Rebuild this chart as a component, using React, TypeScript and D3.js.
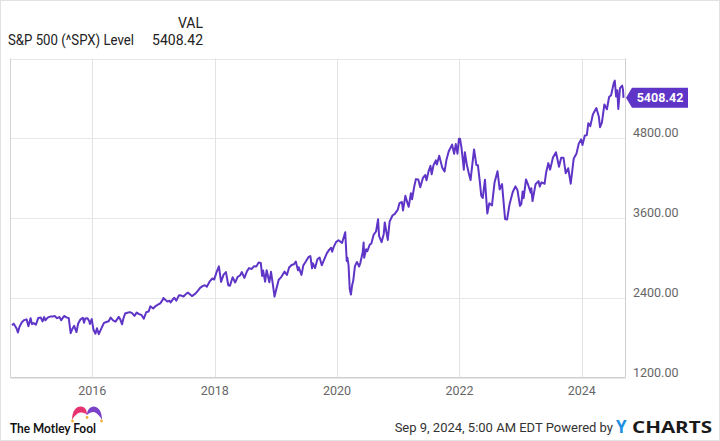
import React from "react";
import * as d3 from "d3";

const dates: string[] = [
"2014-09-09","2014-09-19","2014-09-26","2014-10-07","2014-10-14","2014-10-24","2014-11-07","2014-11-21","2014-12-05","2014-12-16","2014-12-29",
"2015-01-06","2015-01-16","2015-01-30","2015-02-13","2015-02-27","2015-03-10","2015-03-20","2015-03-27","2015-04-10","2015-04-24","2015-05-08","2015-05-22","2015-06-05","2015-06-19","2015-06-30","2015-07-17","2015-07-31","2015-08-14","2015-08-25","2015-09-01","2015-09-15","2015-09-29","2015-10-09","2015-10-23","2015-11-06","2015-11-13","2015-11-20","2015-12-04","2015-12-15","2015-12-18","2015-12-29",
"2016-01-08","2016-01-20","2016-01-29","2016-02-09","2016-02-26","2016-03-11","2016-03-25","2016-04-08","2016-04-20","2016-05-06","2016-05-19","2016-06-07","2016-06-17","2016-06-27","2016-07-05","2016-07-15","2016-07-29","2016-08-12","2016-08-26","2016-09-09","2016-09-22","2016-10-07","2016-10-21","2016-11-04","2016-11-18","2016-12-02","2016-12-13","2016-12-30",
"2017-01-13","2017-01-27","2017-02-10","2017-02-24","2017-03-01","2017-03-10","2017-03-24","2017-04-07","2017-04-13","2017-04-28","2017-05-05","2017-05-17","2017-06-02","2017-06-16","2017-06-29","2017-07-14","2017-07-26","2017-08-11","2017-08-18","2017-09-08","2017-09-22","2017-10-06","2017-10-20","2017-11-03","2017-11-15","2017-12-01","2017-12-18","2017-12-29",
"2018-01-12","2018-01-26","2018-02-08","2018-02-23","2018-03-09","2018-03-23","2018-04-02","2018-04-18","2018-05-03","2018-05-18","2018-06-01","2018-06-12","2018-06-27","2018-07-13","2018-07-25","2018-08-10","2018-08-24","2018-09-07","2018-09-20","2018-10-03","2018-10-11","2018-10-17","2018-10-29","2018-11-07","2018-11-23","2018-12-03","2018-12-14","2018-12-24",
"2019-01-04","2019-01-18","2019-02-01","2019-02-22","2019-03-08","2019-03-21","2019-04-05","2019-04-19","2019-04-30","2019-05-13","2019-05-17","2019-06-03","2019-06-14","2019-06-28","2019-07-15","2019-07-26","2019-08-05","2019-08-09","2019-08-23","2019-09-06","2019-09-19","2019-10-02","2019-10-18","2019-11-01","2019-11-15","2019-11-27","2019-12-03","2019-12-13","2019-12-27",
"2020-01-10","2020-01-31","2020-02-19","2020-02-28","2020-03-03","2020-03-10","2020-03-17","2020-03-24","2020-03-31","2020-04-07","2020-04-17","2020-04-29","2020-05-12","2020-05-19","2020-06-02","2020-06-08","2020-06-11","2020-06-23","2020-06-30","2020-07-14","2020-07-24","2020-08-07","2020-08-21","2020-09-02","2020-09-08","2020-09-23","2020-10-06","2020-10-12","2020-10-30","2020-11-10","2020-11-27","2020-12-11","2020-12-29",
"2021-01-08","2021-01-22","2021-01-29","2021-02-12","2021-02-26","2021-03-04","2021-03-17","2021-03-24","2021-04-06","2021-04-16","2021-04-30","2021-05-12","2021-05-28","2021-06-11","2021-06-18","2021-06-30","2021-07-12","2021-07-19","2021-07-30","2021-08-13","2021-08-19","2021-09-02","2021-09-20","2021-10-04","2021-10-15","2021-10-29","2021-11-18","2021-11-30","2021-12-10","2021-12-20","2021-12-29",
"2022-01-04","2022-01-13","2022-01-27","2022-02-02","2022-02-14","2022-02-24","2022-03-08","2022-03-29","2022-04-12","2022-04-21","2022-05-02","2022-05-11","2022-05-20","2022-06-02","2022-06-16","2022-06-28","2022-07-14","2022-07-29","2022-08-16","2022-08-29","2022-09-12","2022-09-30","2022-10-12","2022-10-27","2022-11-15","2022-12-01","2022-12-13","2022-12-28",
"2023-01-05","2023-01-13","2023-01-19","2023-02-02","2023-02-16","2023-03-02","2023-03-06","2023-03-13","2023-03-31","2023-04-18","2023-04-25","2023-05-05","2023-05-24","2023-06-02","2023-06-15","2023-06-26","2023-07-13","2023-07-31","2023-08-18","2023-08-31","2023-09-14","2023-09-27","2023-10-12","2023-10-27","2023-11-14","2023-11-30","2023-12-14","2023-12-28",
"2024-01-05","2024-01-19","2024-01-31","2024-02-09","2024-02-21","2024-03-07","2024-03-28","2024-04-12","2024-04-19","2024-04-30","2024-05-15","2024-05-30","2024-06-12","2024-06-24","2024-07-10","2024-07-16","2024-07-24","2024-07-31","2024-08-06","2024-08-16","2024-08-29","2024-09-03","2024-09-06"
];

const values: number[] = [
1988,2010,1982,1935,1877,1964,2032,2064,2075,1973,2091,
2003,2019,1995,2097,2104,2044,2108,2061,2102,2117,2116,2126,2092,2110,2063,2126,2104,2091,1867,1914,1978,1884,2014,2075,2099,2023,2089,2091,2043,2005,2078,
1922,1859,1940,1852,1948,2022,2035,2047,2102,2057,2040,2112,2071,2000,2088,2162,2174,2184,2169,2128,2177,2153,2141,2085,2182,2192,2271,2239,
2275,2295,2316,2367,2396,2373,2344,2355,2329,2384,2399,2357,2439,2433,2419,2459,2477,2441,2425,2461,2502,2549,2575,2588,2565,2642,2690,2674,
2786,2873,2640,2747,2786,2588,2582,2708,2630,2713,2735,2786,2699,2801,2846,2833,2875,2872,2931,2925,2728,2809,2641,2814,2633,2790,2600,2417,
2532,2671,2707,2793,2743,2855,2893,2905,2946,2812,2860,2744,2887,2942,3014,3026,2844,2919,2847,2979,3006,2888,2986,3067,3120,3153,3093,3169,3240,
3265,3225,3386,2954,3003,2882,2529,2447,2585,2659,2875,2939,2870,2922,3080,3232,3002,3131,3100,3197,3216,3351,3397,3580,3332,3237,3361,3534,3270,3546,3638,3663,3727,
3825,3841,3714,3934,3811,3768,3974,3881,4074,4185,4181,4063,4204,4247,4166,4298,4385,4258,4395,4468,4406,4537,4358,4300,4471,4605,4704,4567,4712,4568,4793,
4793,4659,4326,4589,4401,4288,4170,4632,4397,4393,4155,3935,3901,4177,3667,3821,3790,4130,4305,4030,4110,3586,3577,3808,3992,4076,4019,3783,
3808,3999,3899,4180,4090,3981,4048,3855,4109,4155,4072,4136,4115,4282,4426,4328,4510,4589,4370,4508,4505,4274,4349,4117,4496,4568,4719,4783,
4697,4840,4846,5027,4982,5157,5254,5123,4967,5036,5308,5236,5421,5448,5633,5667,5427,5522,5240,5554,5592,5529,5408.42
];

const yTicks: number[] = [1200, 2400, 3600, 4800];
const xTickYears: number[] = [2016, 2018, 2020, 2022, 2024];
const seriesName = "S&P 500 (^SPX) Level";
const lastLabel = "5408.42";
const footerDate = "Sep 9, 2024, 5:00 AM EDT Powered by";

const W = 720, H = 441;
const left = 10.5, right = 625.5, top = 58.5, bottom = 377.5;
const LINE = "#5f35c7";

export default function App() {
  const parse = d3.timeParse("%Y-%m-%d");
  const data = dates.map((d, i) => ({ date: parse(d) as Date, value: values[i] }));
  const x = d3.scaleTime()
    .domain([parse("2014-09-09") as Date, parse("2024-09-09") as Date])
    .range([12, 624]);
  const y = d3.scaleLinear().domain([1200, 6000]).range([bottom, top]);
  const line = d3.line<{ date: Date; value: number }>()
    .x(d => x(d.date))
    .y(d => y(d.value));
  const last = data[data.length - 1];
  const ly = y(last.value);
  const font = "Roboto, 'Liberation Sans', sans-serif";

  return (
    <svg width={W} height={H} style={{ position: "absolute", left: 0, top: 0, background: "#fff" }} fontFamily={font}>
      <rect x={0.5} y={0.5} width={W - 1} height={H - 1} fill="#fff" stroke="#e2e2e2" />
      {/* header */}
      <text x={203} y={28} textAnchor="end" fontSize={14} fill="#222">VAL</text>
      <text x={8} y={45} fontSize={14} fill="#222" textLength={126} lengthAdjust="spacingAndGlyphs">{seriesName}</text>
      <text x={203} y={45} textAnchor="end" fontSize={14} fill="#222">{lastLabel}</text>

      {/* grid */}
      {yTicks.concat([6000]).map(t => (
        <line key={"gy" + t} x1={left} x2={right} y1={Math.round(y(t)) + 0.5} y2={Math.round(y(t)) + 0.5} stroke="#e8e8e8" strokeWidth={1} />
      ))}
      {xTickYears.map(yr => {
        const xx = Math.round(x(new Date(yr, 0, 1))) + 0.5;
        return <line key={"gx" + yr} x1={xx} x2={xx} y1={top} y2={bottom} stroke="#e3e3e3" />;
      })}
      <line x1={left} x2={left} y1={top} y2={bottom} stroke="#d5d5d5" />
      <line x1={right} x2={right} y1={top} y2={bottom} stroke="#cfcfcf" />
      <line x1={left} x2={right} y1={bottom} y2={bottom} stroke="#cfcfcf" />

      {/* x labels */}
      {xTickYears.map(yr => (
        <text key={"xl" + yr} x={x(new Date(yr, 0, 1))} y={395} textAnchor="middle" fontSize={12.5} fill="#666">{yr}</text>
      ))}
      {/* y labels */}
      {yTicks.map(t => (
        <text key={"yl" + t} x={633} y={y(t) - 1} fontSize={12.5} fill="#666">{t.toFixed(2)}</text>
      ))}

      {/* series */}
      <path d={line(data) || ""} fill="none" stroke={LINE} strokeWidth={2} strokeLinejoin="round" />

      {/* last value flag */}
      <path d={`M626,${ly} L632,${ly - 10} L688,${ly - 10} L688,${ly + 10} L632,${ly + 10} Z`} fill={LINE} />
      <text x={660} y={ly + 4.5} textAnchor="middle" fontSize={12.5} fontWeight="bold" fill="#fff">{lastLabel}</text>

      {/* footer: Motley Fool */}
      <g>
        <path d="M72,420 C72,410 77,406 81,406.5 C85,407 87,410 87,415 C84,412 80,412 77,414 C74.5,416 73,418 72,420 Z" fill="#e6336f" />
        <path d="M87,415 C87,410 90,406.5 94,406.5 C99,407 102,412 102,420 C100,416 97,413 94,412 C91,412 89,413 87,415 Z" fill="#7a42c8" />
        <circle cx={72.5} cy={421} r={1.4} fill="#f2b234" />
        <circle cx={87} cy={417.5} r={1.4} fill="#f2b234" />
        <circle cx={101.5} cy={421} r={1.4} fill="#f2b234" />
        <text x={10} y={433} fontSize={13.5} fontWeight="bold" fill="#111" fontFamily="Lato, 'Open Sans', sans-serif" textLength={86} lengthAdjust="spacingAndGlyphs">The Motley Fool</text>
      </g>

      {/* footer right */}
      <text x={613} y={432} textAnchor="end" fontSize={13} fill="#333">{footerDate}</text>
      <text x={616} y={433} fontSize={17} fontWeight="bold" fill="#1e8fe1" fontFamily="'Open Sans', sans-serif">Y</text>
      <text x={632} y={433} fontSize={16} fontWeight="bold" fill="#1a1a1a" fontFamily="'Open Sans', sans-serif" textLength={80} lengthAdjust="spacingAndGlyphs">CHARTS</text>
    </svg>
  );
}
